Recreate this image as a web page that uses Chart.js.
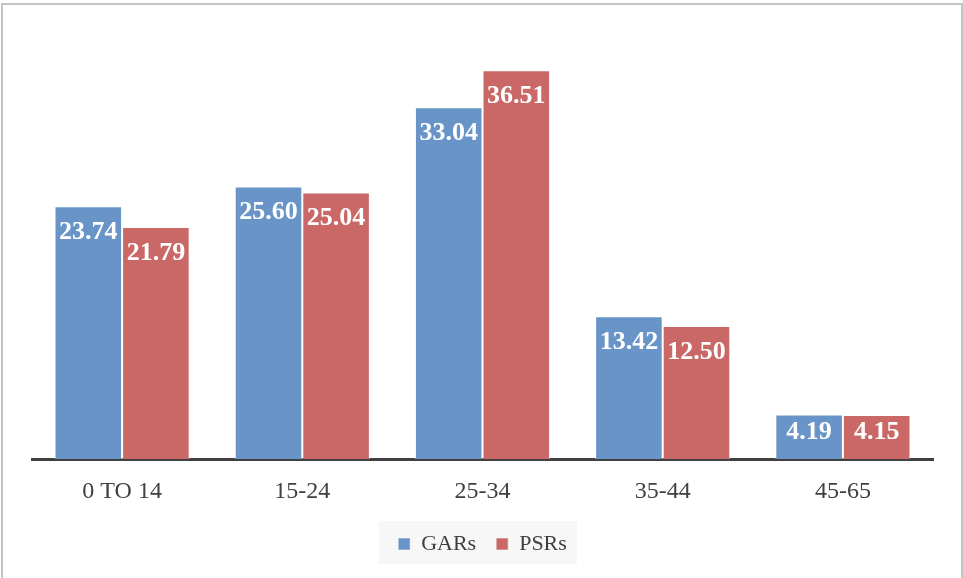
<!DOCTYPE html>
<html>
<head>
<meta charset="utf-8">
<title>GARs vs PSRs by age group</title>
<script src="https://cdn.jsdelivr.net/npm/chart.js@4.4.0/dist/chart.umd.min.js"></script>
<style>
    html, body { margin: 0; padding: 0; background: #fff; overflow: hidden; }
    #wrap { position: relative; width: 963px; height: 578px; }
    #frame {
        position: absolute; left: 1px; top: 3px; width: 958px; height: 620px;
        border: 2px solid #c4c4c4; pointer-events: none;
    }
</style>
</head>
<body>
<div id="wrap">
    <canvas id="ageChart" width="963" height="578"></canvas>
    <div id="frame"></div>
</div>
<script>
const ageGroups = ['0 TO 14', '15-24', '25-34', '35-44', '45-65'];
const garValues = [23.74, 25.60, 33.04, 13.42, 4.19];
const psrValues = [21.79, 25.04, 36.51, 12.50, 4.15];

const SERIF = "'Liberation Serif', 'DejaVu Serif', serif";

// white value labels sitting inside the top of each bar
const valueLabels = {
    id: 'valueLabels',
    afterDatasetsDraw(chart) {
        const ctx = chart.ctx;
        ctx.save();
        ctx.fillStyle = '#ffffff';
        ctx.font = 'bold 26px ' + SERIF;
        ctx.textAlign = 'center';
        ctx.textBaseline = 'middle';
        chart.data.datasets.forEach((ds, i) => {
            chart.getDatasetMeta(i).data.forEach((bar, j) => {
                const y = Math.min(bar.y + 26, bar.base - 27);
                ctx.fillText(ds.data[j].toFixed(2), bar.x, y);
            });
        });
        ctx.restore();
    }
};

// pale panel behind the legend entries
const legendPanel = {
    id: 'legendPanel',
    beforeDraw(chart) {
        const boxes = chart.legend && chart.legend.legendHitBoxes;
        if (!boxes || !boxes.length) return;
        const left = Math.min(...boxes.map(b => b.left)) - 19;
        const right = Math.max(...boxes.map(b => b.left + b.width)) + 10;
        const top = Math.min(...boxes.map(b => b.top)) - 12;
        const bottom = Math.max(...boxes.map(b => b.top + b.height)) + 9;
        const ctx = chart.ctx;
        ctx.save();
        ctx.fillStyle = '#f7f7f7';
        ctx.fillRect(left, top, right - left, bottom - top);
        ctx.restore();
    }
};

new Chart(document.getElementById('ageChart'), {
    type: 'bar',
    data: {
        labels: ageGroups,
        datasets: [
            {
                label: 'GARs',
                data: garValues,
                backgroundColor: '#6894c8',
                borderColor: 'rgba(255,255,255,0.55)',
                borderWidth: 1
            },
            {
                label: 'PSRs',
                data: psrValues,
                backgroundColor: '#c96866',
                borderColor: 'rgba(255,255,255,0.55)',
                borderWidth: 1
            }
        ]
    },
    options: {
        responsive: false,
        animation: false,
        layout: { padding: { left: 32, right: 30, top: 33, bottom: 13 } },
        datasets: { bar: { categoryPercentage: 0.75, barPercentage: 1.0 } },
        scales: {
            x: {
                grid: { display: false },
                border: { display: true, color: '#404040', width: 3 },
                ticks: { color: '#404040', padding: 10, font: { family: SERIF, size: 24 } },
                afterFit(scale) { scale.height -= 3; }
            },
            y: {
                display: false,
                min: 0,
                max: 40
            }
        },
        plugins: {
            legend: {
                position: 'bottom',
                labels: {
                    boxWidth: 12,
                    boxHeight: 12,
                    padding: 20,
                    color: '#404040',
                    font: { family: SERIF, size: 22 }
                }
            },
            tooltip: { enabled: false }
        }
    },
    plugins: [valueLabels, legendPanel]
});
</script>
</body>
</html>
